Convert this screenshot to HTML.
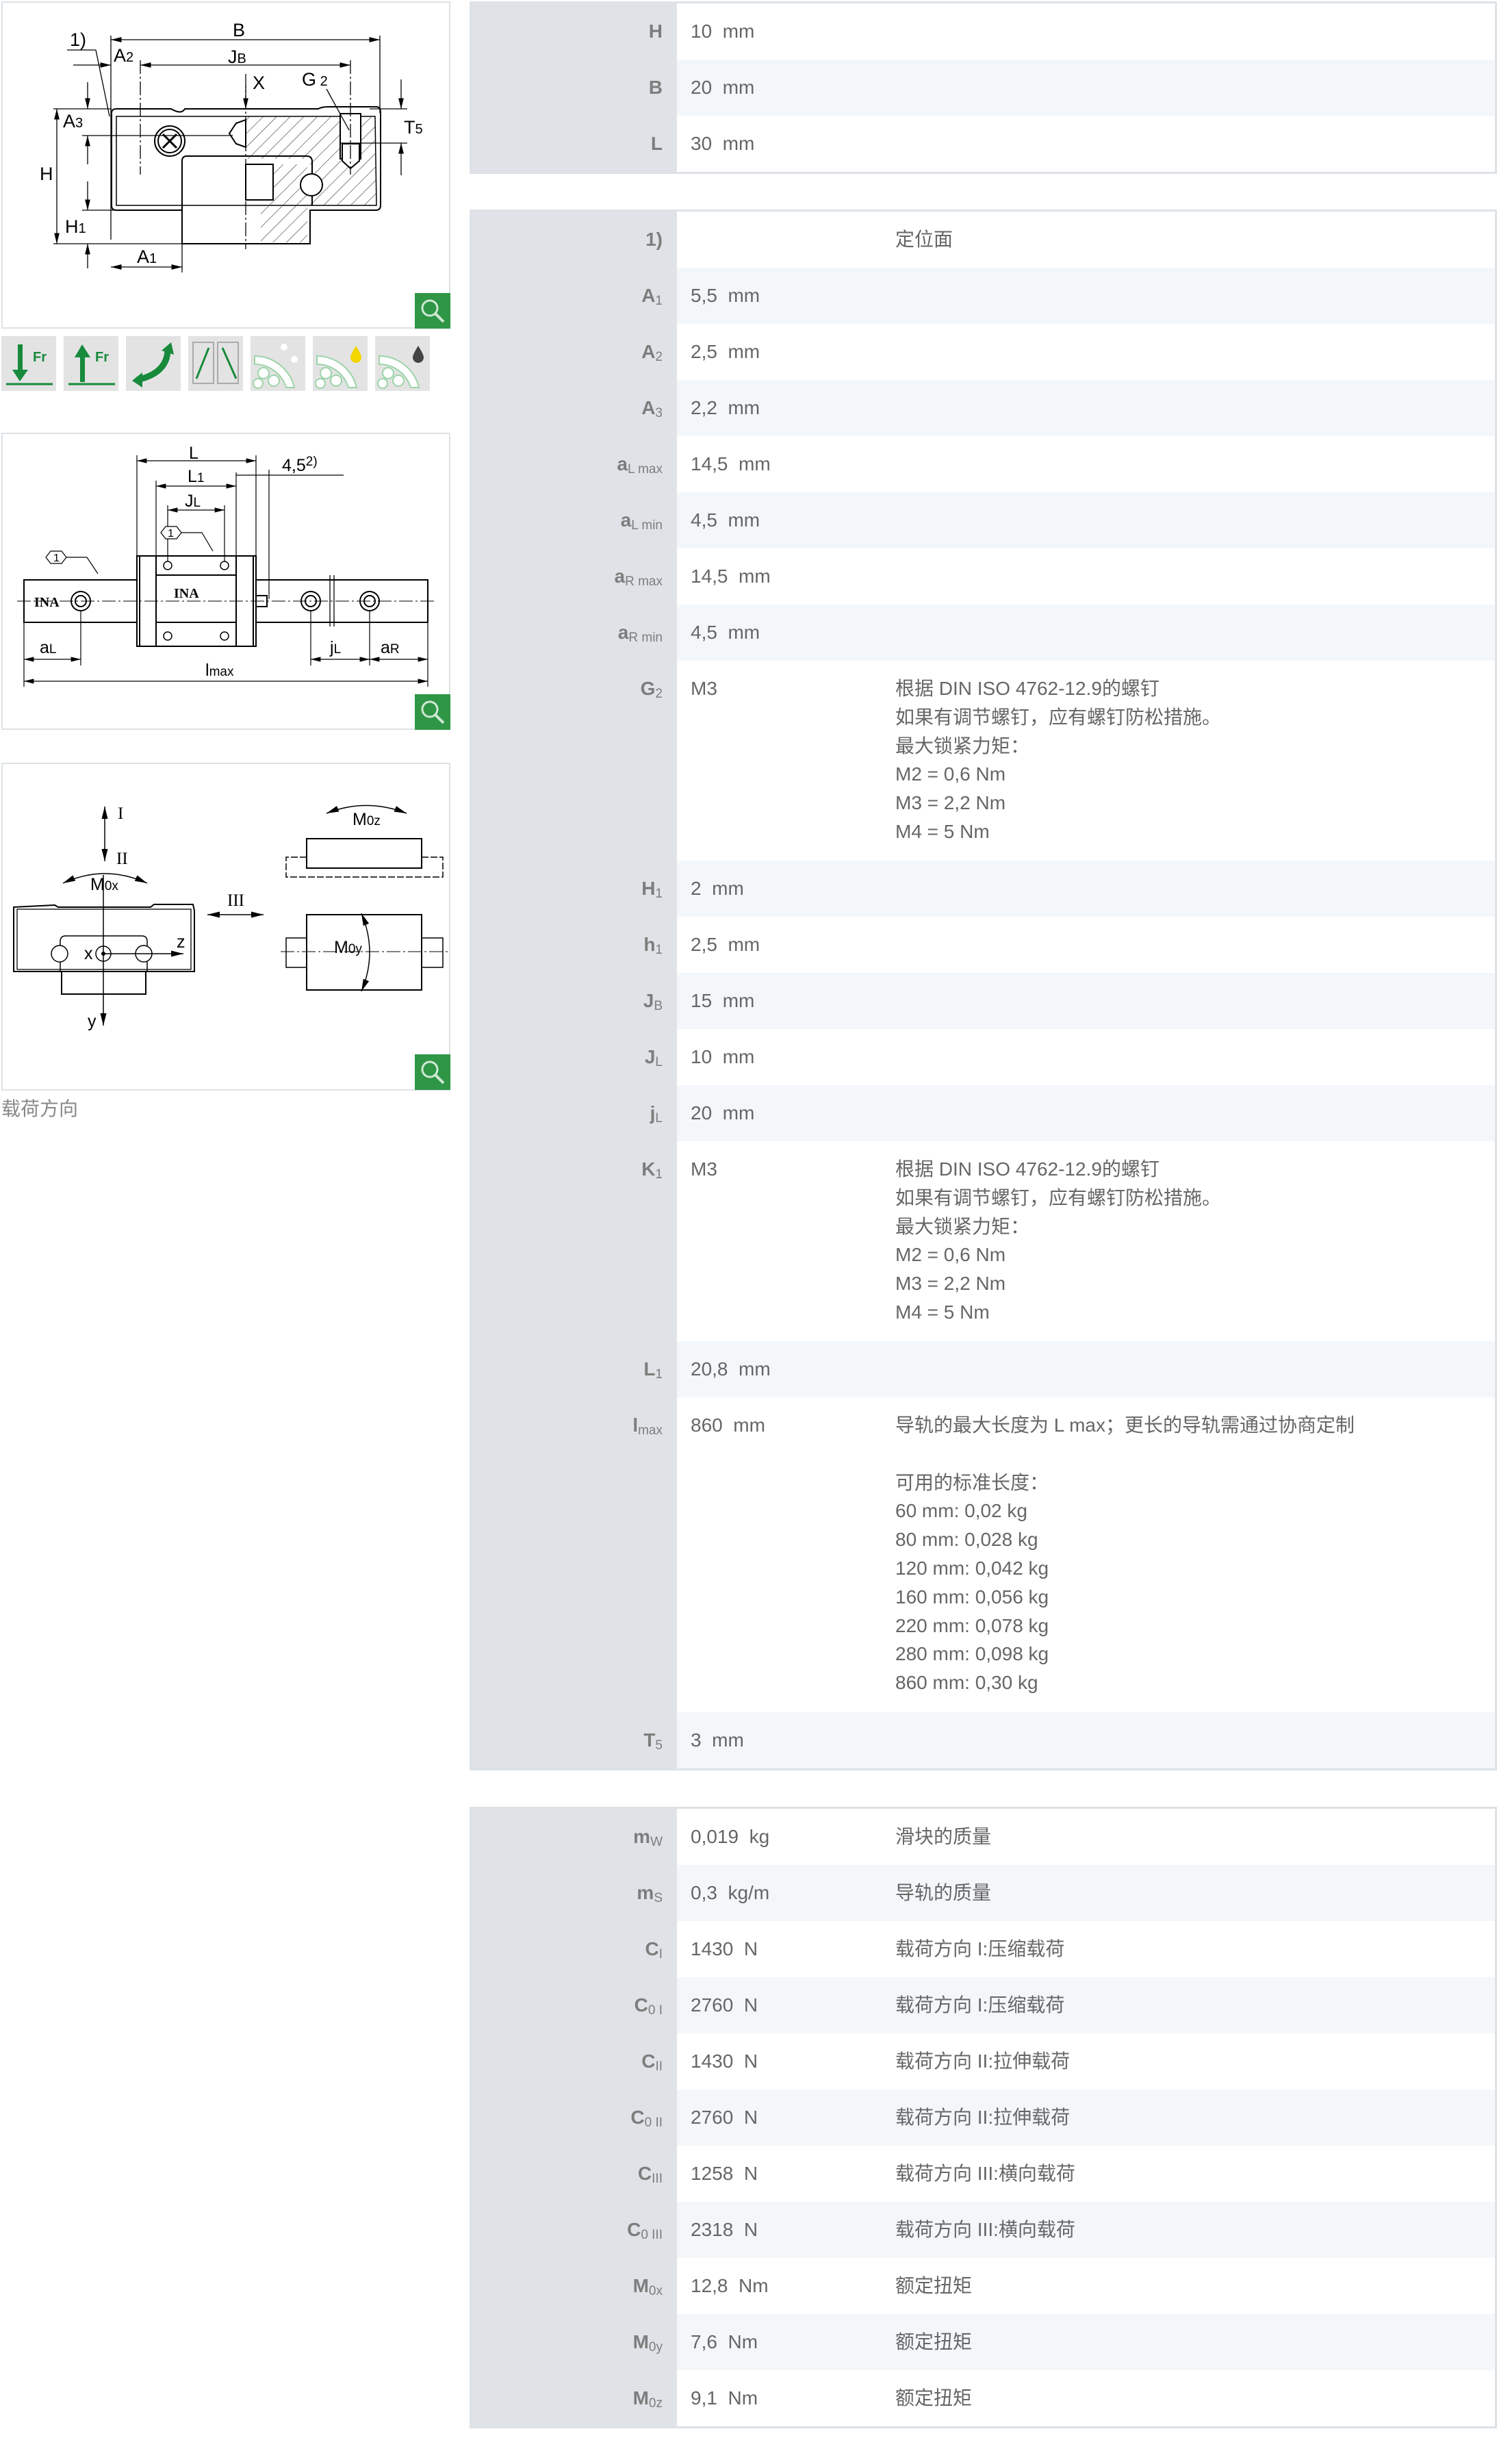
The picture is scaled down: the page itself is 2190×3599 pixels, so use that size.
<!DOCTYPE html>
<html><head><meta charset="utf-8">
<style>
*{margin:0;padding:0;box-sizing:border-box}
body{width:2190px;height:3599px;background:#fff;position:relative;overflow:hidden;font-family:"Liberation Sans","Noto Sans CJK SC",sans-serif;color:#666}
.tbl{position:absolute;left:686px;width:1501px;border:3px solid #dde2e6;background:#dfe3e7}
.row{display:flex;height:82px}
.row.h6{height:292px}
.row.h10{height:460px}
.lab{width:300px;text-align:right;padding-right:21px;padding-top:20px;line-height:41.8px;font-size:28px;font-weight:bold;color:#7d7d7d}
.lab sub{font-size:19px;font-weight:normal;vertical-align:-4px;line-height:0}
.val{width:319px;padding-left:20px;padding-top:20px;line-height:41.8px;font-size:28px;background:#fff}
.note{flex:1;padding-top:20px;line-height:41.8px;font-size:28px;background:#fff}
.s .val,.s .note{background:#f4f7fa}
.panel{position:absolute;left:2px;width:656px;border:2px solid #dde2e6;background:#fff}
</style></head><body>

<div class="tbl" style="top:2px">
<div class="row"><div class="lab">H</div><div class="val">10&nbsp; mm</div><div class="note"></div></div>
<div class="row s"><div class="lab">B</div><div class="val">20&nbsp; mm</div><div class="note"></div></div>
<div class="row"><div class="lab">L</div><div class="val">30&nbsp; mm</div><div class="note"></div></div>
</div>

<div class="tbl" style="top:306px">
<div class="row"><div class="lab">1)</div><div class="val"></div><div class="note">定位面</div></div>
<div class="row s"><div class="lab">A<sub>1</sub></div><div class="val">5,5&nbsp; mm</div><div class="note"></div></div>
<div class="row"><div class="lab">A<sub>2</sub></div><div class="val">2,5&nbsp; mm</div><div class="note"></div></div>
<div class="row s"><div class="lab">A<sub>3</sub></div><div class="val">2,2&nbsp; mm</div><div class="note"></div></div>
<div class="row"><div class="lab">a<sub>L max</sub></div><div class="val">14,5&nbsp; mm</div><div class="note"></div></div>
<div class="row s"><div class="lab">a<sub>L min</sub></div><div class="val">4,5&nbsp; mm</div><div class="note"></div></div>
<div class="row"><div class="lab">a<sub>R max</sub></div><div class="val">14,5&nbsp; mm</div><div class="note"></div></div>
<div class="row s"><div class="lab">a<sub>R min</sub></div><div class="val">4,5&nbsp; mm</div><div class="note"></div></div>
<div class="row h6"><div class="lab">G<sub>2</sub></div><div class="val">M3</div><div class="note">根据 DIN ISO 4762-12.9的螺钉<br>如果有调节螺钉，应有螺钉防松措施。<br>最大锁紧力矩：<br>M2 = 0,6 Nm<br>M3 = 2,2 Nm<br>M4 = 5 Nm</div></div>
<div class="row s"><div class="lab">H<sub>1</sub></div><div class="val">2&nbsp; mm</div><div class="note"></div></div>
<div class="row"><div class="lab">h<sub>1</sub></div><div class="val">2,5&nbsp; mm</div><div class="note"></div></div>
<div class="row s"><div class="lab">J<sub>B</sub></div><div class="val">15&nbsp; mm</div><div class="note"></div></div>
<div class="row"><div class="lab">J<sub>L</sub></div><div class="val">10&nbsp; mm</div><div class="note"></div></div>
<div class="row s"><div class="lab">j<sub>L</sub></div><div class="val">20&nbsp; mm</div><div class="note"></div></div>
<div class="row h6"><div class="lab">K<sub>1</sub></div><div class="val">M3</div><div class="note">根据 DIN ISO 4762-12.9的螺钉<br>如果有调节螺钉，应有螺钉防松措施。<br>最大锁紧力矩：<br>M2 = 0,6 Nm<br>M3 = 2,2 Nm<br>M4 = 5 Nm</div></div>
<div class="row s"><div class="lab">L<sub>1</sub></div><div class="val">20,8&nbsp; mm</div><div class="note"></div></div>
<div class="row h10"><div class="lab">l<sub>max</sub></div><div class="val">860&nbsp; mm</div><div class="note">导轨的最大长度为 L max；更长的导轨需通过协商定制<br><br>可用的标准长度：<br>60 mm: 0,02 kg<br>80 mm: 0,028 kg<br>120 mm: 0,042 kg<br>160 mm: 0,056 kg<br>220 mm: 0,078 kg<br>280 mm: 0,098 kg<br>860 mm: 0,30 kg</div></div>
<div class="row s"><div class="lab">T<sub>5</sub></div><div class="val">3&nbsp; mm</div><div class="note"></div></div>
</div>

<div class="tbl" style="top:2639px">
<div class="row"><div class="lab">m<sub>W</sub></div><div class="val">0,019&nbsp; kg</div><div class="note">滑块的质量</div></div>
<div class="row s"><div class="lab">m<sub>S</sub></div><div class="val">0,3&nbsp; kg/m</div><div class="note">导轨的质量</div></div>
<div class="row"><div class="lab">C<sub>I</sub></div><div class="val">1430&nbsp; N</div><div class="note">载荷方向 I:压缩载荷</div></div>
<div class="row s"><div class="lab">C<sub>0 I</sub></div><div class="val">2760&nbsp; N</div><div class="note">载荷方向 I:压缩载荷</div></div>
<div class="row"><div class="lab">C<sub>II</sub></div><div class="val">1430&nbsp; N</div><div class="note">载荷方向 II:拉伸载荷</div></div>
<div class="row s"><div class="lab">C<sub>0 II</sub></div><div class="val">2760&nbsp; N</div><div class="note">载荷方向 II:拉伸载荷</div></div>
<div class="row"><div class="lab">C<sub>III</sub></div><div class="val">1258&nbsp; N</div><div class="note">载荷方向 III:横向载荷</div></div>
<div class="row s"><div class="lab">C<sub>0 III</sub></div><div class="val">2318&nbsp; N</div><div class="note">载荷方向 III:横向载荷</div></div>
<div class="row"><div class="lab">M<sub>0x</sub></div><div class="val">12,8&nbsp; Nm</div><div class="note">额定扭矩</div></div>
<div class="row s"><div class="lab">M<sub>0y</sub></div><div class="val">7,6&nbsp; Nm</div><div class="note">额定扭矩</div></div>
<div class="row"><div class="lab">M<sub>0z</sub></div><div class="val">9,1&nbsp; Nm</div><div class="note">额定扭矩</div></div>
</div>

<div class="panel" style="top:2px;height:478px"></div>
<div class="panel" style="top:632px;height:434px"></div>
<div class="panel" style="top:1114px;height:479px"></div>
<div style="position:absolute;left:2px;top:1600px;font-size:28px;color:#888;line-height:40px">载荷方向</div>

<svg style="position:absolute;left:0;top:0" width="680" height="1640" viewBox="0 0 680 1640" font-family="Liberation Sans, sans-serif">
<defs>
<pattern id="hat" width="14" height="14" patternUnits="userSpaceOnUse" patternTransform="rotate(45)"><line x1="0" y1="0" x2="0" y2="14" stroke="#333" stroke-width="1.2"/></pattern>
<marker id="ar" markerWidth="12" markerHeight="8" refX="12" refY="4" orient="auto-start-reverse"><path d="M0,1 L12,4 L0,7z" fill="#000"/></marker>
<g id="zoom"><rect width="52" height="52" fill="#2f9646"/><circle cx="22" cy="22" r="11" fill="none" stroke="#cfe8d3" stroke-width="3"/><line x1="30" y1="30" x2="42" y2="42" stroke="#cfe8d3" stroke-width="4"/></g>
</defs>

<!-- Panel 1 drawing -->
<g stroke="#000" fill="none" stroke-width="2">
<path d="M163,165 Q163,159 170,159 L250,159 Q265,168 270,159 L465,159 Q470,156 480,156 L550,156 Q556,156 556,165 L556,300 Q556,307 549,307 L453,307 L453,356 L266,356 L266,307 L170,307 Q163,307 163,300 Z"/>
<path d="M170,170 L548,170 L550,300 L170,300 Z" stroke-width="1.5"/>
<path d="M359,170 L548,170 L550,300 L453,300 L453,232 L359,232 Z" fill="url(#hat)" stroke="none"/>
<path d="M381,240 L449,240 L449,354 L381,354 Z" fill="url(#hat)" stroke="none"/>
<path d="M266,356 L266,235 Q266,228 273,228 L448,228 Q456,228 456,236 L456,300" />
<rect x="359" y="240" width="40" height="52" fill="#fff"/>
<circle cx="248" cy="206" r="22"/><circle cx="248" cy="206" r="17"/>
<path d="M238,196 L258,216 M258,196 L238,216" stroke-width="3"/>
<circle cx="455" cy="270" r="16" fill="#fff"/>
<rect x="497" y="166" width="30" height="66" fill="#fff"/>
<path d="M500,210 L525,210 L525,235 L512,246 L500,235Z" fill="#fff"/>
<path d="M345,180 L359,175 L359,215 L345,210 L335,195Z" fill="#fff"/>
</g>
<g stroke="#000" stroke-width="1.3" fill="none">
<line x1="162" y1="58" x2="555" y2="58" marker-start="url(#ar)" marker-end="url(#ar)"/>
<line x1="162" y1="52" x2="162" y2="350"/><line x1="555" y1="52" x2="555" y2="165"/>
<line x1="205" y1="95" x2="512" y2="95" marker-start="url(#ar)" marker-end="url(#ar)"/>
<line x1="107" y1="95" x2="162" y2="95" marker-end="url(#ar)"/>
<line x1="205" y1="88" x2="205" y2="255" stroke-dasharray="20,4,3,4"/>
<line x1="512" y1="88" x2="512" y2="255" stroke-dasharray="20,4,3,4"/>
<line x1="359" y1="108" x2="359" y2="364" stroke-dasharray="20,4,3,4"/>
<line x1="359" y1="125" x2="359" y2="159" marker-end="url(#ar)"/>
<line x1="78" y1="159" x2="163" y2="159"/><line x1="78" y1="356" x2="266" y2="356"/>
<line x1="83" y1="159" x2="83" y2="356" marker-start="url(#ar)" marker-end="url(#ar)"/>
<line x1="120" y1="198" x2="340" y2="198"/><line x1="120" y1="307" x2="170" y2="307"/>
<line x1="128" y1="120" x2="128" y2="159" marker-end="url(#ar)"/>
<line x1="128" y1="240" x2="128" y2="198" marker-end="url(#ar)"/>
<line x1="128" y1="265" x2="128" y2="307" marker-end="url(#ar)"/>
<line x1="128" y1="392" x2="128" y2="356" marker-end="url(#ar)"/>
<line x1="162" y1="390" x2="266" y2="390" marker-start="url(#ar)" marker-end="url(#ar)"/>
<line x1="266" y1="356" x2="266" y2="398"/>
<line x1="586" y1="116" x2="586" y2="159" marker-end="url(#ar)"/>
<line x1="586" y1="256" x2="586" y2="209" marker-end="url(#ar)"/>
<line x1="540" y1="159" x2="595" y2="159"/><line x1="497" y1="209" x2="595" y2="209"/>
<line x1="98" y1="73" x2="140" y2="73"/><line x1="140" y1="73" x2="160" y2="170"/>
<line x1="477" y1="130" x2="510" y2="190"/>
</g>
<g font-size="27" fill="#000">
<text x="340" y="53">B</text><text x="333" y="92">J<tspan font-size="20">B</tspan></text>
<text x="166" y="90">A<tspan font-size="20">2</tspan></text><text x="102" y="67">1)</text>
<text x="369" y="130">X</text><text x="441" y="125">G<tspan font-size="20"> 2</tspan></text>
<text x="590" y="195">T<tspan font-size="20">5</tspan></text><text x="58" y="263">H</text>
<text x="92" y="186">A<tspan font-size="20">3</tspan></text><text x="95" y="340">H<tspan font-size="20">1</tspan></text>
<text x="200" y="384">A<tspan font-size="20">1</tspan></text>
</g>
<use href="#zoom" x="606" y="428"/>

<!-- Icons -->
<g>
<rect x="2" y="491" width="80" height="80" fill="#e3e3e3"/>
<rect x="93" y="491" width="80" height="80" fill="#e3e3e3"/>
<rect x="184" y="491" width="80" height="80" fill="#e3e3e3"/>
<rect x="275" y="491" width="80" height="80" fill="#e3e3e3"/>
<rect x="366" y="491" width="80" height="80" fill="#e3e3e3"/>
<rect x="457" y="491" width="80" height="80" fill="#e3e3e3"/>
<rect x="548" y="491" width="80" height="80" fill="#e3e3e3"/>
<g fill="#178a3c" stroke="#178a3c">
<rect x="26" y="503" width="7" height="40" stroke="none"/><path d="M18,540 L41,540 L29,557Z" stroke="none"/>
<line x1="9" y1="561" x2="77" y2="561" stroke-width="3"/>
<text x="48" y="528" font-size="20" font-weight="bold" stroke="none">Fr</text>
<rect x="117" y="520" width="7" height="38" stroke="none"/><path d="M109,522 L132,522 L120,503Z" stroke="none"/>
<line x1="100" y1="561" x2="168" y2="561" stroke-width="3"/>
<text x="139" y="528" font-size="20" font-weight="bold" stroke="none">Fr</text>
<path d="M200,555 Q245,545 245,510" fill="none" stroke-width="9"/>
<path d="M193,556 L208,544 L208,566Z" stroke="none"/><path d="M236,512 L250,500 L254,518Z" stroke="none"/>
<line x1="305" y1="508" x2="287" y2="553" stroke-width="3"/><line x1="325" y1="508" x2="345" y2="553" stroke-width="3"/>
</g>
<g fill="none" stroke="#aaa" stroke-width="2"><rect x="282" y="500" width="30" height="60"/><rect x="318" y="500" width="30" height="60"/></g>
<g fill="#fff" stroke="#9cd4a9" stroke-width="2">
<path d="M372,520 A60,60 0 0 1 430,566 L418,566 A48,48 0 0 0 372,532Z"/>
<circle cx="385" cy="545" r="8"/><circle cx="400" cy="556" r="8"/><circle cx="377" cy="560" r="7"/>
<path d="M463,520 A60,60 0 0 1 521,566 L509,566 A48,48 0 0 0 463,532Z"/>
<circle cx="476" cy="545" r="8"/><circle cx="491" cy="556" r="8"/><circle cx="468" cy="560" r="7"/>
<path d="M554,520 A60,60 0 0 1 612,566 L600,566 A48,48 0 0 0 554,532Z"/>
<circle cx="567" cy="545" r="8"/><circle cx="582" cy="556" r="8"/><circle cx="559" cy="560" r="7"/>
</g>
<circle cx="415" cy="507" r="5" fill="#fff"/><circle cx="430" cy="525" r="5" fill="#fff"/>
<path d="M520,505 Q528,518 528,522 A6,6 0 0 1 512,522 Q512,518 520,505Z" fill="#f2d600"/>
<path d="M611,505 Q619,518 619,522 A6,6 0 0 1 603,522 Q603,518 611,505Z" fill="#444"/>
</g>

<!-- Panel 2 drawing -->
<g stroke="#000" stroke-width="2" fill="none">
<rect x="35" y="847" width="590" height="62" fill="#fff"/>
<rect x="200" y="812" width="174" height="132" fill="#fff"/>
<rect x="228" y="812" width="117" height="132"/>
<line x1="228" y1="840" x2="345" y2="840"/><line x1="228" y1="909" x2="345" y2="909"/>
<line x1="204" y1="812" x2="204" y2="944"/><line x1="370" y1="812" x2="370" y2="944"/>
<circle cx="118" cy="878" r="14"/><circle cx="118" cy="878" r="8"/>
<circle cx="454" cy="878" r="14"/><circle cx="454" cy="878" r="8"/>
<circle cx="540" cy="878" r="14"/><circle cx="540" cy="878" r="8"/>
<rect x="374" y="870" width="16" height="16"/>
<line x1="482" y1="840" x2="482" y2="915" stroke-width="1.3"/><line x1="488" y1="840" x2="488" y2="915" stroke-width="1.3"/>
</g>
<g stroke="#000" stroke-width="1.5" fill="none">
<circle cx="245" cy="826" r="6"/><circle cx="328" cy="826" r="6"/><circle cx="245" cy="929" r="6"/><circle cx="328" cy="929" r="6"/>
<line x1="25" y1="878" x2="635" y2="878" stroke-dasharray="20,4,3,4" stroke-width="1"/>
</g>
<g stroke="#000" stroke-width="1.2" fill="none">
<line x1="200" y1="665" x2="200" y2="812"/><line x1="374" y1="665" x2="374" y2="812"/>
<line x1="228" y1="702" x2="228" y2="812"/><line x1="345" y1="690" x2="345" y2="812"/>
<line x1="245" y1="738" x2="245" y2="820"/><line x1="328" y1="738" x2="328" y2="820"/>
<line x1="200" y1="673" x2="374" y2="673" marker-start="url(#ar)" marker-end="url(#ar)"/>
<line x1="228" y1="710" x2="345" y2="710" marker-start="url(#ar)" marker-end="url(#ar)"/>
<line x1="245" y1="745" x2="328" y2="745" marker-start="url(#ar)" marker-end="url(#ar)"/>
<line x1="345" y1="694" x2="502" y2="694"/><line x1="393" y1="686" x2="393" y2="875"/>
<line x1="35" y1="909" x2="35" y2="1003"/><line x1="625" y1="909" x2="625" y2="1003"/>
<line x1="118" y1="892" x2="118" y2="972"/><line x1="454" y1="892" x2="454" y2="972"/><line x1="540" y1="892" x2="540" y2="972"/>
<line x1="35" y1="963" x2="118" y2="963" marker-start="url(#ar)" marker-end="url(#ar)"/>
<line x1="454" y1="963" x2="540" y2="963" marker-start="url(#ar)" marker-end="url(#ar)"/>
<line x1="540" y1="963" x2="625" y2="963" marker-start="url(#ar)" marker-end="url(#ar)"/>
<line x1="35" y1="995" x2="625" y2="995" marker-start="url(#ar)" marker-end="url(#ar)"/>
<path d="M67,814 L74,805 L90,805 L97,814 L90,823 L74,823Z" fill="#fff"/>
<path d="M97,814 L127,814 L143,838"/>
<path d="M235,778 L242,769 L258,769 L265,778 L258,787 L242,787Z" fill="#fff"/>
<path d="M265,778 L295,778 L311,805"/>
</g>
<g font-size="25" fill="#000">
<text x="276" y="670">L</text><text x="274" y="704">L<tspan font-size="19">1</tspan></text>
<text x="270" y="740">J<tspan font-size="19">L</tspan></text>
<text x="412" y="688">4,5<tspan font-size="19" dy="-8">2)</tspan></text>
<text x="58" y="954">a<tspan font-size="19">L</tspan></text>
<text x="300" y="987">l<tspan font-size="19">max</tspan></text>
<text x="482" y="954">j<tspan font-size="19">L</tspan></text>
<text x="556" y="954">a<tspan font-size="19">R</tspan></text>
<text x="78" y="820" font-size="16">1</text><text x="245" y="784" font-size="16">1</text>
<text x="50" y="886" font-size="20" font-weight="bold" font-family="Liberation Serif, serif">INA</text>
<text x="254" y="873" font-size="20" font-weight="bold" font-family="Liberation Serif, serif">INA</text>
</g>
<use href="#zoom" x="606" y="1014"/>

<!-- Panel 3 drawing -->
<g stroke="#000" stroke-width="1.5" fill="none">
<line x1="153" y1="1178" x2="153" y2="1258" marker-start="url(#ar)" marker-end="url(#ar)"/>
<path d="M92,1290 Q153,1262 215,1290" marker-start="url(#ar)" marker-end="url(#ar)"/>
<path d="M20,1325 L80,1322 L85,1325 L220,1325 L225,1321 L282,1321 L284,1330 L284,1419 L20,1419Z" stroke-width="2"/>
<rect x="25" y="1328" width="254" height="88" stroke-width="1.3"/>
<path d="M88,1419 L88,1375 Q88,1367 96,1367 L207,1367 Q215,1367 215,1375 L215,1419" stroke-width="1.5"/>
<path d="M90,1419 L90,1452 L213,1452 L213,1419" stroke-width="2"/>
<circle cx="87" cy="1393" r="12" fill="#fff"/><circle cx="210" cy="1393" r="12" fill="#fff"/>
<circle cx="151" cy="1393" r="11"/>
<line x1="151" y1="1278" x2="151" y2="1498" marker-end="url(#ar)"/>
<line x1="151" y1="1393" x2="268" y2="1393" marker-end="url(#ar)"/>
<line x1="303" y1="1336" x2="385" y2="1336" marker-start="url(#ar)" marker-end="url(#ar)"/>
<path d="M477,1188 Q535,1165 594,1188" marker-start="url(#ar)" marker-end="url(#ar)"/>
<rect x="448" y="1225" width="168" height="43" stroke-width="2"/>
<path d="M448,1252 L418,1252 L418,1281 L647,1281 L647,1252 L616,1252" stroke-dasharray="10,3"/>
<rect x="448" y="1336" width="168" height="110" stroke-width="2"/>
<path d="M448,1370 L418,1370 L418,1413 L448,1413 M616,1370 L647,1370 L647,1413 L616,1413"/>
<line x1="410" y1="1390" x2="655" y2="1390" stroke-dasharray="20,4,3,4" stroke-width="1"/>
<path d="M528,1334 Q552,1391 528,1448" marker-start="url(#ar)" marker-end="url(#ar)"/>
</g>
<circle cx="151" cy="1393" r="3" fill="#000"/>
<g fill="#000" font-size="25">
<text x="172" y="1196" font-family="Liberation Serif, serif">I</text>
<text x="170" y="1262" font-family="Liberation Serif, serif">II</text>
<text x="332" y="1323" font-family="Liberation Serif, serif">III</text>
<text x="132" y="1300">M<tspan font-size="19">0x</tspan></text>
<text x="515" y="1205">M<tspan font-size="19">0z</tspan></text>
<text x="488" y="1392">M<tspan font-size="19">0y</tspan></text>
<text x="123" y="1401">x</text><text x="258" y="1384">z</text><text x="128" y="1500">y</text>
</g>
<use href="#zoom" x="606" y="1540"/>
</svg>
</body></html>
